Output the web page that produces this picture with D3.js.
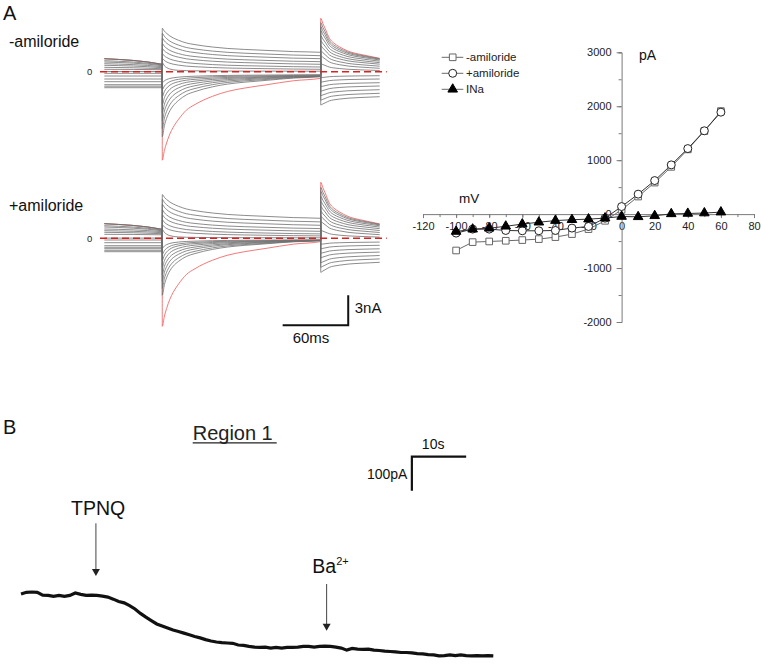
<!DOCTYPE html>
<html>
<head>
<meta charset="utf-8">
<script src="https://cdn.jsdelivr.net/npm/d3@7"></script>
<style>
  body { margin: 0; background: #fff; }
  svg { display: block; font-family: "Liberation Sans", Arial, sans-serif; }
</style>
</head>
<body>
<svg id="fig" width="761" height="668"></svg>
<script>
// ---------- panel A, current traces (nA) ----------
// one trace per test step, index 0 = -100 mV (drawn red)
var stepVoltages = [-100, -90, -80, -70, -60, -50, -40, -30, -20, -10, 0, 10, 20, 30, 40, 50, 60];
var stepOn = 53, stepOff = 198, traceEnd = 252;   // ms

// decay profiles (time after the jump, fraction left)
var stepTimes = [0, 2, 4, 7, 10, 15, 22, 30, 46, 60, 75, 95, 120, 145];
var slowShape = [1, 0.88, 0.79, 0.68, 0.6, 0.5, 0.39, 0.32, 0.22, 0.16, 0.12, 0.08, 0.03, 0];
var fastShape = [1, 0.6, 0.38, 0.2, 0.11, 0.05, 0.02, 0.01, 0, 0, 0, 0, 0, 0];
var tailTimes = [0, 2, 4, 8, 12, 17, 25, 36, 45, 54];
var tailShape = [1, 0.87, 0.75, 0.5, 0.38, 0.29, 0.18, 0.1, 0.05, 0];

// -amiloride
var preStartMinus = [1.3, 1.3, 1.3, 1.1, 0.97, 0.8, 0.64, 0.44, 0.24, 0.02, -0.16, -0.43, -0.73, -1.0, -1.3, -1.45, -1.6];
var preEndMinus   = [0.74, 0.74, 0.74, 0.67, 0.6, 0.5, 0.4, 0.3, 0.2, 0.02, -0.16, -0.43, -0.73, -1.0, -1.3, -1.45, -1.6];
var stepPeakMinus = [-8.85, -6.5, -5.7, -4.9, -4.1, -3.3, -2.5, -1.8, -1.1, 0.9, 1.33, 1.8, 2.31, 2.81, 3.36, 3.84, 4.34];
var stepSlowMinus = [-8.19, -4.6, -3.7, -2.9, -2.2, -1.6, -1.1, -0.75, -0.45, 0.1, 0.8, 1.1, 1.4, 1.6, 1.9, 2.1, 2.4];
var stepEndMinus  = [-0.66, -0.5, -0.48, -0.46, -0.44, -0.42, -0.4, -0.35, -0.3, 0.05, 0.24, 0.47, 0.74, 1.0, 1.3, 1.6, 1.94];
var tailPeakMinus = [5.34, 4.9, 4.5, 4.1, 3.6, 3.1, 2.6, 2.1, 1.6, 0.8, -0.6, -1.05, -1.5, -1.95, -2.4, -2.85, -3.33];
var tailEndMinus  = [1.34, 1.3, 1.25, 1.17, 1.05, 0.9, 0.75, 0.55, 0.34, 0.12, -0.4, -0.73, -1.1, -1.43, -1.8, -2.16, -2.5];

// +amiloride
var preStartPlus = [1.46, 1.46, 1.46, 1.26, 1.13, 0.93, 0.76, 0.6, 0.4, 0.02, -0.17, -0.44, -0.74, -0.9, -1.04, -1.2, -1.34];
var preEndPlus   = [0.9, 0.9, 0.9, 0.82, 0.75, 0.66, 0.56, 0.46, 0.35, 0.02, -0.17, -0.44, -0.74, -0.9, -1.04, -1.2, -1.34];
var stepPeakPlus = [-8.8, -5.7, -5.0, -4.3, -3.6, -2.9, -2.2, -1.6, -1.0, 0.9, 1.35, 1.85, 2.35, 2.85, 3.4, 3.9, 4.37];
var stepSlowPlus = [-8.47, -4.0, -3.3, -2.6, -2.0, -1.45, -1.0, -0.7, -0.4, 0.1, 0.8, 1.1, 1.4, 1.6, 1.9, 2.1, 2.4];
var stepEndPlus  = [-0.33, -0.23, -0.23, -0.22, -0.22, -0.21, -0.2, -0.18, -0.15, 0.05, 0.24, 0.44, 0.7, 0.97, 1.3, 1.64, 2.0];
var tailPeakPlus = [5.6, 5.1, 4.7, 4.2, 3.7, 3.2, 2.7, 2.2, 1.7, 0.8, -0.6, -1.05, -1.5, -1.95, -2.45, -2.9, -3.4];
var tailEndPlus  = [1.44, 1.4, 1.34, 1.25, 1.12, 0.96, 0.78, 0.58, 0.36, 0.12, -0.38, -0.7, -1.05, -1.38, -1.72, -2.06, -2.4];

// ---------- panel A, I-V relation (pA) ----------
var ivVoltage = [-100, -90, -80, -70, -60, -50, -40, -30, -20, -10, 0, 10, 20, 30, 40, 50, 60];
var ivMinusAmil = [-674, -519, -507, -494, -481, -463, -426, -370, -278, -124, 80, 326, 585, 876, 1200, 1540, 1910];
var ivPlusAmil = [-352, -278, -278, -303, -309, -309, -303, -259, -229, -75, 140, 370, 622, 913, 1215, 1545, 1890];
var ivINa = [-322, -280, -262, -225, -185, -150, -120, -104, -93, -74, -44, -50, -31, 5, 12, 20, 37];
var ivXTicks = [-120, -100, -80, -60, -40, -20, 0, 20, 40, 60, 80];
var ivYTicks = [-2000, -1000, 0, 1000, 2000, 3000];

// ---------- panel B, whole-cell current trace (pA, 1 s steps) ----------
var regionCurrent = [-6, -1, 0, -1, -9, -10, -13, -10, -13, -10, -3, -7, -10, -9, -10, -12, -15, -21, -28, -32,
  -40, -50, -63, -74, -84, -94, -100, -106, -112, -116, -121, -126, -131, -135, -140, -144, -147, -149, -150, -151,
  -156, -157, -160, -162, -163, -162, -165, -163, -165, -163, -163, -162, -160, -160, -162, -160, -159, -160, -162, -165,
  -171, -166, -168, -169, -168, -171, -172, -174, -175, -176, -178, -178, -179, -181, -182, -184, -185, -188, -187, -185,
  -187, -185, -187, -188, -187, -188, -187, -188];
var tpnqTime = 13.8, bariumTime = 56.3;   // s

var svg = d3.select("#fig");

// ================= A: traces =================
var xT = d3.scaleLinear().domain([0, traceEnd]).range([104.3, 379.7]);

function buildTraces(p) {
  return stepVoltages.map(function(v, i) {
    var pts = [[0, p.preStart[i]], [stepOn, p.preEnd[i]]];
    var aSlow = p.slow[i], aFast = p.peak[i] - p.end[i] - aSlow;
    stepTimes.forEach(function(t, k) {
      pts.push([stepOn + t + (k === 0 ? 0.05 : 0), p.end[i] + aSlow * slowShape[k] + aFast * fastShape[k]]);
    });
    tailTimes.forEach(function(t, k) {
      pts.push([stepOff + t + (k === 0 ? 0.05 : 0), p.tailEnd[i] + (p.tailPeak[i] - p.tailEnd[i]) * tailShape[k]]);
    });
    return {v: v, pts: pts};
  });
}

function drawTraces(zeroY, p, label, labelY) {
  var yI = d3.scaleLinear().domain([-10, 10]).range([zeroY + 100, zeroY - 100]);
  var line = d3.line()
    .x(function(d) { return xT(d[0]); })
    .y(function(d) { return yI(d[1]); })
    .curve(d3.curveMonotoneX);
  var traces = buildTraces(p);
  var g = svg.append("g");
  // red (-100 mV) first, the rest on top
  g.append("path")
    .attr("d", line(traces[0].pts))
    .attr("fill", "none")
    .attr("stroke", "#f06a6a")
    .attr("stroke-width", 0.9);
  g.selectAll("path.tr")
    .data(traces.slice(1))
    .enter().append("path")
    .attr("class", "tr")
    .attr("d", function(d) { return line(d.pts); })
    .attr("fill", "none")
    .attr("stroke", "#6e6e6e")
    .attr("stroke-width", 0.8);
  // zero line
  g.append("line")
    .attr("x1", 100).attr("x2", 386.7)
    .attr("y1", yI(0)).attr("y2", yI(0))
    .attr("stroke", "#dd2020")
    .attr("stroke-width", 1.6)
    .attr("stroke-dasharray", "7,4");
  g.append("text")
    .attr("x", 87).attr("y", yI(0) + 3.5)
    .attr("font-size", 9.5).attr("fill", "#222")
    .text("0");
  svg.append("text")
    .attr("x", 9).attr("y", labelY)
    .attr("font-size", 16).attr("fill", "#111")
    .text(label);
  return yI;
}

svg.append("text").attr("x", 3).attr("y", 20).attr("font-size", 20).attr("fill", "#111").text("A");

drawTraces(71.7, {
  preStart: preStartMinus, preEnd: preEndMinus, peak: stepPeakMinus, slow: stepSlowMinus,
  end: stepEndMinus, tailPeak: tailPeakMinus, tailEnd: tailEndMinus
}, "-amiloride", 46.7);

var yPlus = drawTraces(238.3, {
  preStart: preStartPlus, preEnd: preEndPlus, peak: stepPeakPlus, slow: stepSlowPlus,
  end: stepEndPlus, tailPeak: tailPeakPlus, tailEnd: tailEndPlus
}, "+amiloride", 210.7);

// scale bars: 60 ms, 3 nA
var barT = 163.2, barI = -8.7;
svg.append("path")
  .attr("d", "M" + xT(barT) + "," + yPlus(barI) + "H" + xT(barT + 60) + "V" + yPlus(barI + 3))
  .attr("fill", "none").attr("stroke", "#111").attr("stroke-width", 2);
svg.append("text").attr("x", xT(barT + 60) + 6.5).attr("y", 313.3).attr("font-size", 15).attr("fill", "#111").text("3nA");
svg.append("text").attr("x", xT(barT) + 10).attr("y", 343.3).attr("font-size", 15).attr("fill", "#111").text("60ms");

// ================= A: I-V plot =================
var xIV = d3.scaleLinear().domain([-120, 80]).range([423, 754]);
var yIV = d3.scaleLinear().domain([-2000, 3000]).range([322, 52.3]);
var axisColor = "#7a7a7a";

var gx = svg.append("g").attr("transform", "translate(0," + yIV(0) + ")");
gx.call(d3.axisBottom(xIV).tickValues(d3.range(-120, 81, 10)).tickSize(3).tickFormat(""));
gx.call(function(g) {
  g.select(".domain").attr("stroke", axisColor);
  g.selectAll(".tick line").attr("stroke", axisColor);
});
var gx2 = svg.append("g").attr("transform", "translate(0," + yIV(0) + ")");
gx2.call(d3.axisBottom(xIV).tickValues(ivXTicks).tickSize(4).tickPadding(4.5)
  .tickFormat(function(d) { return String(d); }));
gx2.select(".domain").remove();
gx2.selectAll(".tick line").attr("stroke", axisColor);
gx2.selectAll(".tick text").attr("font-size", 11).attr("fill", "#222").attr("font-family", "Liberation Sans, Arial, sans-serif");

var gy = svg.append("g").attr("transform", "translate(" + xIV(0) + ",0)");
gy.call(d3.axisLeft(yIV).tickValues(d3.range(-2000, 3001, 500)).tickSize(3).tickFormat(""));
gy.select(".domain").attr("stroke", axisColor);
gy.selectAll(".tick line").attr("stroke", axisColor);
var gy2 = svg.append("g").attr("transform", "translate(" + xIV(0) + ",0)");
gy2.call(d3.axisLeft(yIV).tickValues(ivYTicks).tickSize(5).tickPadding(5)
  .tickFormat(function(d) { return String(d); }));
gy2.select(".domain").remove();
gy2.selectAll(".tick line").attr("stroke", axisColor);
gy2.selectAll(".tick text").attr("font-size", 11).attr("fill", "#222").attr("font-family", "Liberation Sans, Arial, sans-serif");

svg.append("text").attr("x", 639).attr("y", 60).attr("font-size", 14).attr("fill", "#111").text("pA");
svg.append("text").attr("x", 459).attr("y", 202.7).attr("font-size", 13.5).attr("fill", "#111").text("mV");

var ivSeries = [
  {name: "-amiloride", values: ivMinusAmil, shape: "square", stroke: "#666", line: "#6a6a6a", fill: "#fff"},
  {name: "+amiloride", values: ivPlusAmil, shape: "circle", stroke: "#222", line: "#333", fill: "#fff"},
  {name: "INa", values: ivINa, shape: "triangle", stroke: "#000", line: "#333", fill: "#000"}
];
var symbolFor = {
  square: d3.symbol().type(d3.symbolSquare).size(44),
  circle: d3.symbol().type(d3.symbolCircle).size(50),
  triangle: d3.symbol().type(d3.symbolTriangle).size(40)
};
var ivLine = d3.line()
  .x(function(d) { return xIV(d[0]); })
  .y(function(d) { return yIV(d[1]); });

ivSeries.forEach(function(s) {
  var pts = ivVoltage.map(function(v, i) { return [v, s.values[i]]; });
  svg.append("path").attr("d", ivLine(pts)).attr("fill", "none").attr("stroke", s.line).attr("stroke-width", 1);
});
ivSeries.forEach(function(s) {
  var pts = ivVoltage.map(function(v, i) { return [v, s.values[i]]; });
  svg.append("g").selectAll("path")
    .data(pts).enter().append("path")
    .attr("transform", function(d) { return "translate(" + xIV(d[0]) + "," + yIV(d[1]) + ")"; })
    .attr("d", symbolFor[s.shape])
    .attr("fill", s.fill).attr("stroke", s.stroke).attr("stroke-width", 1);
});

// legend
var lg = svg.append("g").selectAll("g").data(ivSeries).enter().append("g")
  .attr("transform", function(d, i) { return "translate(0," + (57.3 + i * 16) + ")"; });
lg.append("line").attr("x1", 441.7).attr("x2", 463.3).attr("stroke", "#6a6a6a").attr("stroke-width", 1);
lg.append("path").attr("transform", "translate(452.7,0)")
  .attr("d", function(d) { return symbolFor[d.shape](); })
  .attr("fill", function(d) { return d.fill; }).attr("stroke", function(d) { return d.stroke; });
lg.append("text").attr("x", 466).attr("y", 4).attr("font-size", 11.5).attr("fill", "#222")
  .text(function(d) { return d.name; });

// ================= B =================
var xB = d3.scaleLinear().domain([0, regionCurrent.length - 1]).range([21, 493.3]);
var yB = d3.scaleLinear().domain([0, -200]).range([592, 660]);

svg.append("text").attr("x", 3).attr("y", 434).attr("font-size", 20).attr("fill", "#111").text("B");
svg.append("text").attr("x", 192.7).attr("y", 440).attr("font-size", 20).attr("fill", "#222").text("Region 1");
svg.append("line").attr("x1", 192.7).attr("x2", 276.7).attr("y1", 442.8).attr("y2", 442.8)
  .attr("stroke", "#222").attr("stroke-width", 1.3);

svg.append("path")
  .datum(regionCurrent)
  .attr("d", d3.line().x(function(d, i) { return xB(i); }).y(function(d) { return yB(d); }))
  .attr("fill", "none").attr("stroke", "#111").attr("stroke-width", 3.2).attr("stroke-linejoin", "miter");

// scale bars 10 s / 100 pA
var sbT = 72, sbI = 398;
svg.append("path")
  .attr("d", "M" + xB(sbT + 10) + "," + yB(sbI) + "H" + xB(sbT) + "V" + yB(sbI - 100))
  .attr("fill", "none").attr("stroke", "#111").attr("stroke-width", 2.2);
svg.append("text").attr("x", xB(sbT) + 10).attr("y", 449.3).attr("font-size", 14).attr("fill", "#111").text("10s");
svg.append("text").attr("x", xB(sbT) - 4.5).attr("y", 479).attr("text-anchor", "end")
  .attr("font-size", 14).attr("fill", "#111").text("100pA");

// drug arrows
function arrow(t, y0, y1) {
  var x = xB(t);
  svg.append("line").attr("x1", x).attr("x2", x).attr("y1", y0).attr("y2", y1 - 6)
    .attr("stroke", "#444").attr("stroke-width", 1);
  svg.append("path").attr("d", "M" + (x - 4) + "," + (y1 - 7) + "L" + (x + 4) + "," + (y1 - 7) + "L" + x + "," + y1 + "Z")
    .attr("fill", "#222");
}
arrow(tpnqTime, 523.3, 576);
arrow(bariumTime, 584, 630.7);
svg.append("text").attr("x", 71).attr("y", 515).attr("font-size", 19.5).attr("fill", "#111").text("TPNQ");
var ba = svg.append("text").attr("x", 312.3).attr("y", 573.3).attr("font-size", 19.5).attr("fill", "#111");
ba.append("tspan").text("Ba");
ba.append("tspan").attr("font-size", 11).attr("dy", -8).text("2+");
</script>
</body>
</html>
